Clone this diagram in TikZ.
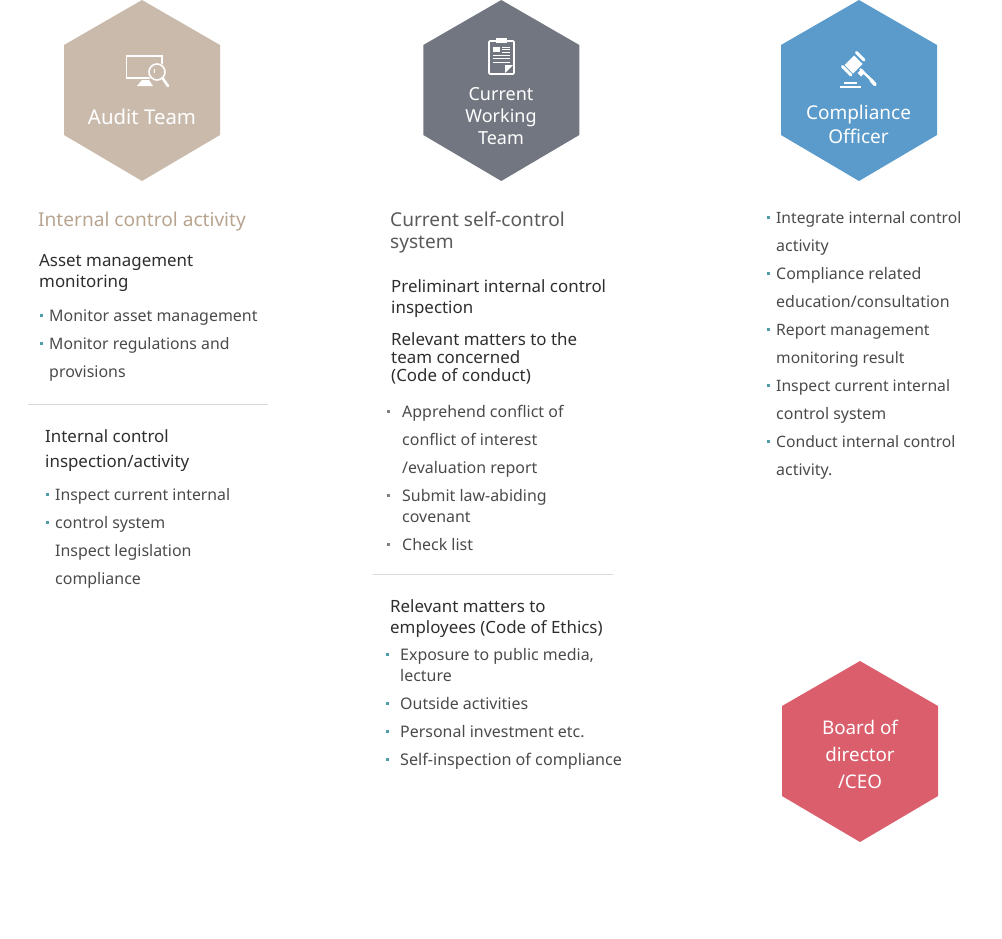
\documentclass[tikz,border=0pt]{standalone}
\usepackage{fontspec}
\setmainfont{Noto Sans}
\definecolor{beige}{HTML}{C9BAAB}
\definecolor{slate}{HTML}{717680}
\definecolor{sky}{HTML}{5B9BCB}
\definecolor{rose}{HTML}{DA5E6C}
\definecolor{headtan}{HTML}{B8A48F}
\definecolor{headgray}{HTML}{5A5A5A}
\definecolor{body}{HTML}{4A4A4A}
\definecolor{dark}{HTML}{2E2E2E}
\definecolor{teal}{HTML}{4F9DA6}
\definecolor{rulegray}{HTML}{D9D9D9}
\tikzset{
  x=1pt,y=-1pt,
  hextitle/.style={text=white,anchor=base,inner sep=0pt,font=\fontsize{#1}{24}\selectfont},
  heading/.style={anchor=base west,inner sep=0pt,font=\fontsize{19.1}{22}\selectfont},
  sub/.style={anchor=base west,inner sep=0pt,text=dark,font=\fontsize{16.9}{20}\selectfont},
  item/.style={anchor=base west,inner sep=0pt,text=body,font=\fontsize{15.95}{20}\selectfont},
  itemfit/.style={anchor=base west,inner sep=0pt,text=body,font=\fontsize{#1}{20}\selectfont},
  icon/.style={draw=white,line width=1.6pt,fill=none},
  sep/.style={draw=rulegray,line width=0.8pt},
}
\newcommand{\hexa}[4]{% name, cx, top, colour
  \fill[#4] (#2,#3) -- (#2+78,#3+45) -- (#2+78,#3+135) -- (#2,#3+181) -- (#2-78,#3+135) -- (#2-78,#3+45) -- cycle;
  \coordinate (#1) at (#2,#3+90);
}
\newcommand{\dotb}[3]{\fill[#3] (#1-1.5,#2-1.5) rectangle (#1+1.5,#2+1.5);}
\begin{document}
\begin{tikzpicture}
\useasboundingbox (0,0) rectangle (1002,938);
\hexa{audit}{142}{0}{beige}
\hexa{work}{501.3}{0}{slate}
\hexa{comp}{859}{0}{sky}
\hexa{board}{860}{661}{rose}
% hexagon titles
\node[hextitle=20.4] (t1) at (142,124) {Audit Team};
\node[hextitle=18] (t2a) at (501,100.5) {Current};
\node[hextitle=18] (t2b) at (501,122.5) {Working};
\node[hextitle=18] (t2c) at (501,144) {Team};
\node[hextitle=19] (t3a) at (858.5,119.5) {Compliance};
\node[hextitle=19] (t3b) at (858.5,143) {Officer};
\node[hextitle=18.8] (t4a) at (860,734.5) {Board of};
\node[hextitle=18.8] (t4b) at (860,761) {director};
\node[hextitle=18.8] (t4c) at (860,788) {/CEO};
% monitor icon
\draw[icon] (126.5,56) rectangle (162,78);
\fill[white] (137,86) -- (153,86) -- (149,80) -- (142,80) -- cycle;
\fill[beige] (157,72) circle (9.5);
\draw[icon] (157,72) circle (8);
\draw[white,line width=1pt] (154,69) -- (154,73);
\draw[white,line width=2.6pt,line cap=round] (162.5,78) -- (168,86);
% clipboard icon
\draw[white,line width=1.6pt,rounded corners=1pt] (489,41) rectangle (514,74);
\fill[white] (496,38) rectangle (507,43);
\fill[white] (493,47) rectangle (500,52);
\foreach \yy in {47,49.5,52}{\draw[white,line width=0.9pt] (502,\yy) -- (510,\yy);}
\foreach \yy in {55,58,62}{\draw[white,line width=0.9pt] (493,\yy) -- (510,\yy);}
\fill[white] (505,73) -- (513,65) -- (505,65) -- cycle;
% gavel icon
\fill[white] (844.5,65) -- (854,55.5) -- (862.5,64) -- (853,73.5) -- cycle;
\draw[white,line width=3pt,line cap=round] (842.5,66.5) -- (851,75);
\draw[white,line width=3pt,line cap=round] (856.5,52.5) -- (864,60);
\draw[white,line width=2.4pt] (860,69) -- (872,80.5);
\draw[white,line width=3.6pt,line cap=round] (871,80) -- (875,84.5);
\fill[white] (857.5,73) -- (862,69) -- (865,72.5) -- (861,76.5) -- cycle;
\fill[white] (843.5,81.5) rectangle (857,84);
\fill[white] (840,85.5) rectangle (860.5,87.7);
% left column
\node[heading,text=headtan] (a0) at (38,226) {Internal control activity};
\node[sub] (a1) at (39,266) {Asset management};
\node[sub] (a2) at (39,287) {monitoring};
\node[item] (a3) at (49,321) {Monitor asset management};
\node[itemfit=15.8] (a4) at (49,349) {Monitor regulations and};
\node[item] (a5) at (49,377) {provisions};
\dotb{41}{315}{teal}
\dotb{41}{343}{teal}
\coordinate (s1a) at (28,404.5); \coordinate (s1b) at (268,404.5);
\draw[sep] (s1a) -- (s1b);
\node[sub] (a6) at (45,442) {Internal control};
\node[sub] (a7) at (45,467) {inspection/activity};
\node[itemfit=15.8] (a8) at (55,500) {Inspect current internal};
\node[item] (a9) at (55,528) {control system};
\node[item] (a10) at (55,556) {Inspect legislation};
\node[item] (a11) at (55,584) {compliance};
\dotb{47}{494}{teal}
\dotb{47}{522}{teal}
% middle column
\node[heading,text=headgray] (b0) at (390,226) {Current self-control};
\node[heading,text=headgray] (b1) at (390,248) {system};
\node[sub] (b2) at (391,292) {Preliminart internal control};
\node[sub] (b3) at (391,313) {inspection};
\node[sub] (b4) at (391,345) {Relevant matters to the};
\node[sub] (b5) at (391,363) {team concerned};
\node[sub] (b6) at (391,381) {(Code of conduct)};
\node[item] (b7) at (402,417) {Apprehend conflict of};
\node[item] (b8) at (402,445) {conflict of interest};
\node[item] (b9) at (402,473) {/evaluation report};
\node[item] (b10) at (402,501) {Submit law-abiding};
\node[item] (b11) at (402,522) {covenant};
\node[item] (b12) at (402,550) {Check list};
\dotb{388}{411}{gray}
\dotb{388}{495}{gray}
\dotb{388}{544}{gray}
\coordinate (s2a) at (373,574.5); \coordinate (s2b) at (613,574.5);
\draw[sep] (s2a) -- (s2b);
\node[sub] (b13) at (390,612) {Relevant matters to};
\node[sub] (b14) at (390,633) {employees (Code of Ethics)};
\node[item] (b15) at (400,660) {Exposure to public media,};
\node[item] (b16) at (400,681) {lecture};
\node[item] (b17) at (400,709) {Outside activities};
\node[item] (b18) at (400,737) {Personal investment etc.};
\node[itemfit=16.15] (b19) at (400,765) {Self-inspection of compliance};
\dotb{387}{654}{teal}
\dotb{387}{703}{teal}
\dotb{387}{731}{teal}
\dotb{387}{759}{teal}
% right column
\node[itemfit=15.6] (c1) at (776,223) {Integrate internal control};
\node[item] (c2) at (776,251) {activity};
\node[item] (c3) at (776,279) {Compliance related};
\node[item] (c4) at (776,307) {education/consultation};
\node[itemfit=15.7] (c5) at (776,335) {Report management};
\node[itemfit=15.6] (c6) at (776,363) {monitoring result};
\node[itemfit=15.7] (c7) at (776,391) {Inspect current internal};
\node[item] (c8) at (776,419) {control system};
\node[itemfit=15.7] (c9) at (776,447) {Conduct internal control};
\node[item] (c10) at (776,475) {activity.};
\dotb{768}{217}{teal}
\dotb{768}{273}{teal}
\dotb{768}{329}{teal}
\dotb{768}{385}{teal}
\dotb{768}{441}{teal}
\end{tikzpicture}
\end{document}
